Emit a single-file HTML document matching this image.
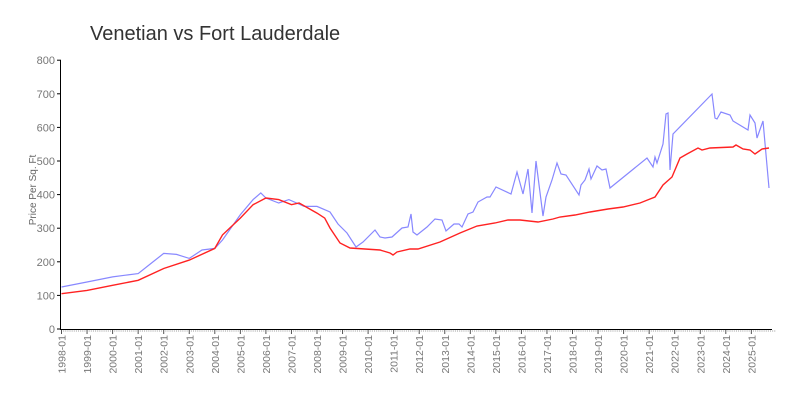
<!DOCTYPE html>
<html><head><meta charset="utf-8"><style>
html,body{margin:0;padding:0;background:#fff;}
svg{display:block;font-family:"Liberation Sans",sans-serif;}
</style></head><body>
<svg id="s" width="800" height="400" xmlns="http://www.w3.org/2000/svg">
<text x="90" y="40" font-size="20" fill="#333">Venetian vs Fort Lauderdale</text>
<text transform="translate(36,190) rotate(-90)" font-size="10" fill="#666" text-anchor="middle">Price Per Sq. Ft</text>
<g id="ax"></g>
<polyline id="b" fill="none" stroke="#8888ff" stroke-width="1.2"/>
<polyline id="r" fill="none" stroke="#ff2222" stroke-width="1.4"/>
</svg>
<script>
var X=function(t){return 61.5+(t-1998)*25.55;},Y=function(v){return 329-v*0.336;};
var ax=document.getElementById('ax'),h='';
h+='<line x1="60.5" y1="60" x2="60.5" y2="330" stroke="#000"/>';
h+='<line x1="60" y1="329.5" x2="772" y2="329.5" stroke="#000"/>';
for(var i=0;i<=8;i++){var y=Y(i*100);h+='<line x1="57" x2="61" y1="'+y+'" y2="'+y+'" stroke="#000"/><text x="55" y="'+(y+4)+'" font-size="11" fill="#777" text-anchor="end">'+(i*100)+'</text>';}
for(var m=0;m<=335;m++){var x=X(1998+m/12);if(m%12==0){h+='<line x1="'+x+'" x2="'+x+'" y1="330" y2="334" stroke="#555"/>';var yr=1998+m/12;h+='<text transform="translate('+(x+4)+',335) rotate(-90)" font-size="10.5" fill="#777" text-anchor="end">'+yr+'-01</text>';}else{h+='<line x1="'+x+'" x2="'+x+'" y1="330" y2="332" stroke="#ccc"/>';}}
ax.innerHTML=h;
function conv(a){return a.map(function(p){return X(p[0]).toFixed(1)+','+Y(p[1]).toFixed(1);});}
var red=conv([[1998,105],[1999,115],[2000,130],[2001,145],[2002,180],[2003,205],[2004,240],[2004.3,280],[2005,330],[2005.5,370],[2006,390],[2006.5,385],[2007,370],[2007.3,375],[2008,345],[2008.3,330]]);
red=red.concat(["330,228","340,243","350,248","380,250","390,253","393,255","397,252","410,249","418,249","440,242","460,233","477,226","495,223","508,220","520,220","538,222","553,219","560,217","575,215","590,212","608,209","623,207","640,203","650,199","655,197","663,185","672,177","680,158","687,154","698,148","702,150","710,148","733,147","736,145","743,149","750,150","755,154","762,149","769,148"]);
var blue=conv([[1998,125],[1999,140],[2000,155],[2000.5,160],[2001,165],[2001.5,195],[2002,225],[2002.5,222],[2003,210],[2003.5,235],[2004,240],[2004.3,265],[2005,340],[2005.5,385],[2005.8,405],[2006,390],[2006.5,375],[2006.9,385],[2007.2,375],[2007.5,365],[2008,365],[2008.3,355]]);
blue=blue.concat(["330,212","338,224","347,233","356,247","363,242","375,230","380,237","385,238","392,237","402,228","408,227","411,214","413,232","417,235","427,227","435,219","442,220","446,231","454,224","459,224","462,227","468,214","473,212","478,202","487,197","490,197","496,187","511,194","517,172","523,194","528,169","532,213","536,161","543,216","546,197","552,180","557,163","561,174","566,175","579,195","581,185","585,180","589,169","591,179","597,166","602,170","606,169","610,188","647,158","653,167","655,157","657,163","663,144","666,114","668,113","670,170","673,134","712,94","715,118","717,119","721,112","730,115","733,121","748,130","750,115","755,123","757,138","763,121","769,188"]);
document.getElementById('r').setAttribute('points',red.join(' '));
document.getElementById('b').setAttribute('points',blue.join(' '));
</script>
</body></html>
